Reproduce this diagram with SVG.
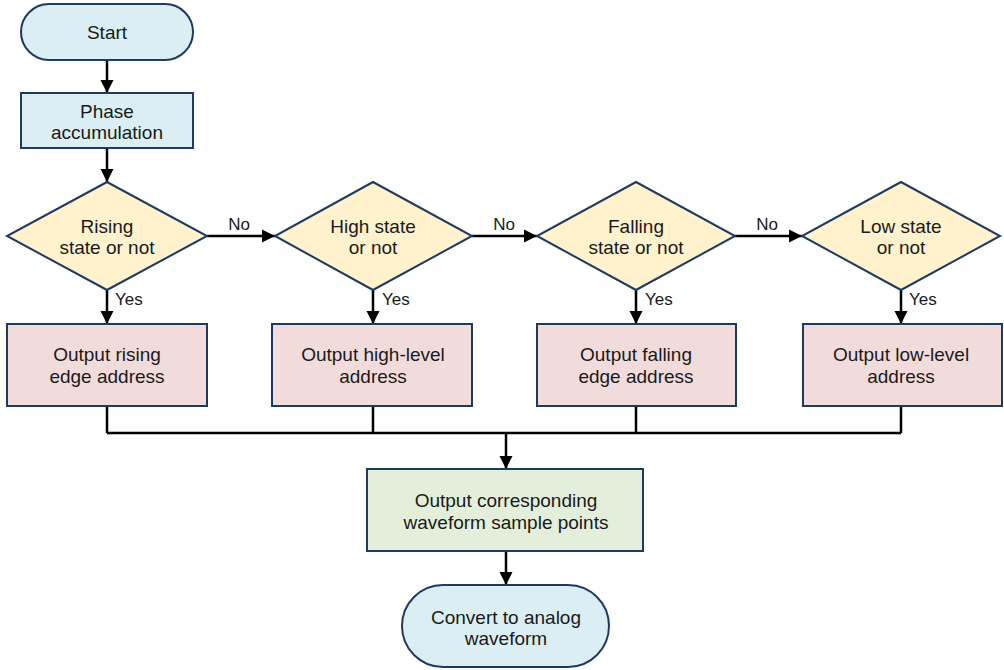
<svg xmlns="http://www.w3.org/2000/svg" width="1004" height="670" viewBox="0 0 1004 670">
<defs>
<style>
text{font-family:"Liberation Sans",Arial,sans-serif;font-size:19px;fill:#1a1a1a;text-anchor:middle}
.lbl{font-size:17px;text-anchor:start}
.lblc{font-size:17px}
.term{fill:#dbeef4;stroke:#1f3a5f;stroke-width:2}
.proc{fill:#dbeef4;stroke:#1f3a5f;stroke-width:2}
.dec{fill:#fff2cc;stroke:#1f3a5f;stroke-width:2}
.out{fill:#f2dcdb;stroke:#1f3a5f;stroke-width:2}
.grn{fill:#e3efda;stroke:#1f3a5f;stroke-width:2}
.c{fill:none;stroke:#000;stroke-width:2.5}
</style>
<marker id="ah" markerUnits="userSpaceOnUse" markerWidth="14" markerHeight="14" refX="13" refY="7" orient="auto">
<path d="M0,0.5 L13,7 L0,13.5 z" fill="#000"/>
</marker>
</defs>
<rect width="1004" height="670" fill="#fff"/>
<g id="connectors">
<line class="c" x1="107" y1="60" x2="107" y2="93" marker-end="url(#ah)"/>
<line class="c" x1="107" y1="148" x2="107" y2="182" marker-end="url(#ah)"/>
<line class="c" x1="207" y1="236" x2="275" y2="236" marker-end="url(#ah)"/>
<line class="c" x1="472" y1="236" x2="537" y2="236" marker-end="url(#ah)"/>
<line class="c" x1="735" y1="236" x2="802" y2="236" marker-end="url(#ah)"/>
<line class="c" x1="107" y1="290" x2="107" y2="324" marker-end="url(#ah)"/>
<line class="c" x1="373" y1="290" x2="373" y2="324" marker-end="url(#ah)"/>
<line class="c" x1="636" y1="290" x2="636" y2="324" marker-end="url(#ah)"/>
<line class="c" x1="901" y1="290" x2="901" y2="324" marker-end="url(#ah)"/>
<path class="c" d="M107,406 V433 M373,406 V433 M636,406 V433 M901,406 V433 M107,433 H901"/>
<line class="c" x1="506" y1="433" x2="506" y2="469" marker-end="url(#ah)"/>
<line class="c" x1="506" y1="551" x2="506" y2="585" marker-end="url(#ah)"/>
<text class="lblc" x="239" y="230">No</text>
<text class="lblc" x="504" y="230">No</text>
<text class="lblc" x="767" y="230">No</text>
<text class="lbl" x="115" y="305">Yes</text>
<text class="lbl" x="382" y="305">Yes</text>
<text class="lbl" x="645" y="305">Yes</text>
<text class="lbl" x="909" y="305">Yes</text>
</g>
<g id="start">
<rect class="term" x="21" y="4" width="172" height="56" rx="28"/>
<text x="107" y="39">Start</text>
</g>
<g id="phase">
<rect class="proc" x="21" y="93" width="172" height="55"/>
<text x="107" y="117.5">Phase</text>
<text x="107" y="139">accumulation</text>
</g>
<g id="d-rising">
<polygon class="dec" points="107,182 207,236 107,290 7,236"/>
<text x="107" y="233">Rising</text>
<text x="107" y="254">state or not</text>
</g>
<g id="d-high">
<polygon class="dec" points="373,182 472,236 373,290 275,236"/>
<text x="373" y="233">High state</text>
<text x="373" y="254">or not</text>
</g>
<g id="d-falling">
<polygon class="dec" points="636,182 735,236 636,290 537,236"/>
<text x="636" y="233">Falling</text>
<text x="636" y="254">state or not</text>
</g>
<g id="d-low">
<polygon class="dec" points="901,182 1000,236 901,290 802,236"/>
<text x="901" y="233">Low state</text>
<text x="901" y="254">or not</text>
</g>
<g id="o-rising">
<rect class="out" x="7" y="324" width="200" height="82"/>
<text x="107" y="361">Output rising</text>
<text x="107" y="383">edge address</text>
</g>
<g id="o-high">
<rect class="out" x="272" y="324" width="200" height="82"/>
<text x="373" y="361">Output high-level</text>
<text x="373" y="383">address</text>
</g>
<g id="o-falling">
<rect class="out" x="537" y="324" width="199" height="82"/>
<text x="636" y="361">Output falling</text>
<text x="636" y="383">edge address</text>
</g>
<g id="o-low">
<rect class="out" x="803" y="324" width="199" height="82"/>
<text x="901" y="361">Output low-level</text>
<text x="901" y="383">address</text>
</g>
<g id="samples">
<rect class="grn" x="367" y="469" width="276" height="82"/>
<text x="506" y="506.5">Output corresponding</text>
<text x="506" y="528.5">waveform sample points</text>
</g>
<g id="convert">
<rect class="term" x="402" y="585" width="207" height="82" rx="41"/>
<text x="506" y="623.5">Convert to analog</text>
<text x="506" y="645">waveform</text>
</g>
</svg>
